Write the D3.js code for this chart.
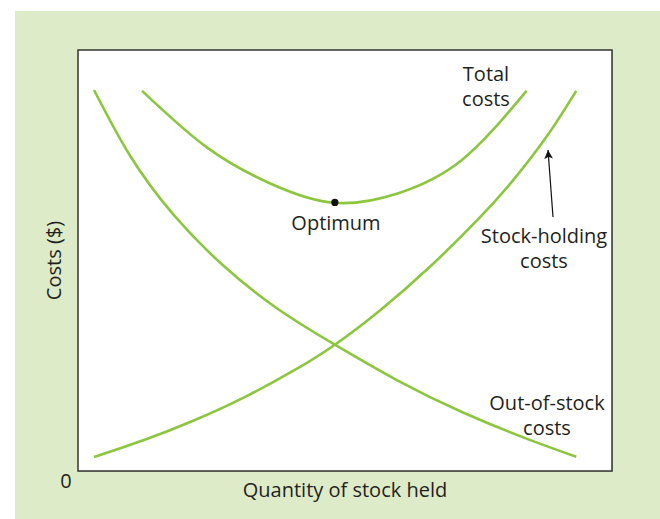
<!DOCTYPE html>
<html>
<head>
<meta charset="utf-8">
<script src="https://cdn.jsdelivr.net/npm/d3@7"></script>
<style>
  html, body { margin: 0; padding: 0; background: #ffffff; }
  svg { display: block; }
  text { font-family: "Open Sans", "Noto Sans", sans-serif; fill: #231f20; }
</style>
</head>
<body>
<script>
// Quantity of stock held (arbitrary units, 0-100) and cost (arbitrary units, 0-100)
const outOfStockQty   = [3.0, 9.7, 17.8, 27.2, 37.3, 48.1, 59.7, 72.1, 84.6, 93.3];
const outOfStockCost  = [90.5, 75.0, 61.0, 48.8, 38.6, 30.0, 21.6, 13.9, 7.4, 3.4];

const holdingQty      = [3.0, 12.5, 21.9, 31.3, 40.6, 48.1, 56.6, 65.9, 75.3, 81.5, 87.8, 93.3];
const holdingCost     = [3.3, 7.4, 12.1, 17.6, 24.0, 30.0, 38.2, 48.5, 60.3, 69.1, 79.5, 90.3];

const totalQty        = [12, 24, 36, 48, 60, 72, 84];
const totalCost       = [90.3, 77.0, 68.3, 63.7, 66.0, 74.0, 90.3];

const optimum         = { qty: 48.1, cost: 63.8 };

const axisLabels = { x: "Quantity of stock held", y: "Costs ($)", origin: "0" };

const W = 660, H = 519;
const plot = { left: 78, right: 612, top: 50, bottom: 471 };

const svg = d3.select("body").append("svg")
  .attr("width", W).attr("height", H);

// panel background
svg.append("rect")
  .attr("x", 15).attr("y", 11)
  .attr("width", W - 15).attr("height", H - 11)
  .attr("fill", "#deebc9");

// plot area with a faint drop shadow
svg.append("rect")
  .attr("x", plot.left + 1).attr("y", plot.top + 1)
  .attr("width", plot.right - plot.left).attr("height", plot.bottom - plot.top)
  .attr("fill", "#9aa08f").attr("opacity", 0.5);
svg.append("rect")
  .attr("x", plot.left).attr("y", plot.top)
  .attr("width", plot.right - plot.left).attr("height", plot.bottom - plot.top)
  .attr("fill", "#ffffff").attr("stroke", "#333333").attr("stroke-width", 1.5);

const x = d3.scaleLinear().domain([0, 100]).range([plot.left, plot.right]);
const y = d3.scaleLinear().domain([0, 100]).range([plot.bottom, plot.top]);

const line = d3.line()
  .x(d => x(d[0])).y(d => y(d[1]))
  .curve(d3.curveNatural);

const series = [
  d3.zip(outOfStockQty, outOfStockCost),
  d3.zip(holdingQty, holdingCost),
  d3.zip(totalQty, totalCost)
];

svg.append("g").selectAll("path")
  .data(series)
  .join("path")
  .attr("d", line)
  .attr("fill", "none")
  .attr("stroke", "#8cc63f")
  .attr("stroke-width", 2.6)
  .attr("stroke-linecap", "butt");

// optimum point
svg.append("circle")
  .attr("cx", x(optimum.qty)).attr("cy", y(optimum.cost))
  .attr("r", 3.6).attr("fill", "#111111");

// arrow to the stock-holding curve
svg.append("defs").append("marker")
  .attr("id", "head")
  .attr("viewBox", "0 0 10 10")
  .attr("refX", 10).attr("refY", 5)
  .attr("markerWidth", 9).attr("markerHeight", 9)
  .attr("markerUnits", "userSpaceOnUse")
  .attr("orient", "auto")
  .append("path").attr("d", "M0,0 L10,5 L0,10 L2.5,5 Z").attr("fill", "#111111");

svg.append("line")
  .attr("x1", 553).attr("y1", 217)
  .attr("x2", 548).attr("y2", 150)
  .attr("stroke", "#111111").attr("stroke-width", 1.2)
  .attr("marker-end", "url(#head)");

// curve labels
const labels = [
  { lines: ["Total", "costs"], cx: 486, y: 81 },
  { lines: ["Optimum"], cx: 336, y: 230 },
  { lines: ["Stock-holding", "costs"], cx: 544, y: 243 },
  { lines: ["Out-of-stock", "costs"], cx: 547, y: 410 }
];
labels.forEach(l => {
  const t = svg.append("text")
    .attr("text-anchor", "middle")
    .attr("font-size", 20);
  l.lines.forEach((s, i) => {
    t.append("tspan").attr("x", l.cx).attr("y", l.y + i * 24.5).text(s);
  });
});

// axis titles
svg.append("text")
  .attr("x", (plot.left + plot.right) / 2).attr("y", 497)
  .attr("text-anchor", "middle").attr("font-size", 20)
  .text(axisLabels.x);

svg.append("text")
  .attr("transform", `translate(61,${(plot.top + plot.bottom) / 2}) rotate(-90)`)
  .attr("text-anchor", "middle").attr("font-size", 20)
  .text(axisLabels.y);

svg.append("text")
  .attr("x", 66).attr("y", 488)
  .attr("text-anchor", "middle").attr("font-size", 20)
  .text(axisLabels.origin);
</script>
</body>
</html>
